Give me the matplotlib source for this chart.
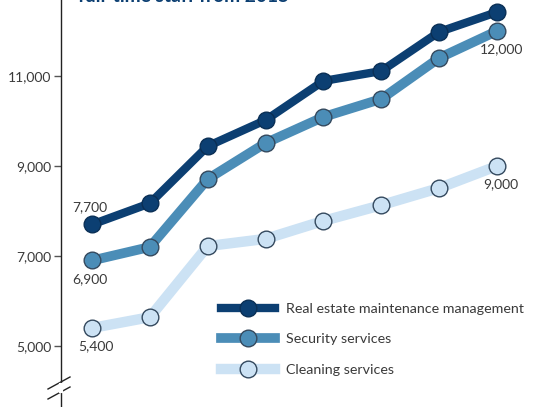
import matplotlib.pyplot as plt
from matplotlib.lines import Line2D

plt.rcParams['font.family'] = ['Lato', 'DejaVu Sans']

years = [2015, 2016, 2017, 2018, 2019, 2020, 2021, 2022]
real_estate = [7700, 8170, 9440, 10020, 10890, 11110, 11980, 12420]
security = [6900, 7200, 8710, 9510, 10090, 10490, 11400, 12000]
cleaning = [5400, 5640, 7220, 7380, 7780, 8130, 8510, 9000]
yticks = [5000, 7000, 9000, 11000]

c_dark = "#0c3f72"
c_mid = "#4b8db7"
c_light = "#cce2f4"
edge = "#34495e"
txt = "#3a3a3a"

fig = plt.figure(figsize=(5.43, 4.07), dpi=100)
ax = fig.add_axes([61 / 543, 0, 1 - 61 / 543, 1])

x = list(range(len(years)))
ax.plot(x, cleaning, color=c_light, lw=7.5, solid_capstyle='butt', zorder=2)
ax.plot(x, cleaning, 'o', ms=12, mfc=c_light, mec=edge, mew=1.0, zorder=3)
ax.plot(x, security, color=c_mid, lw=7, solid_capstyle='butt', zorder=4)
ax.plot(x, security, 'o', ms=12, mfc=c_mid, mec=edge, mew=1.0, zorder=5)
ax.plot(x, real_estate, color=c_dark, lw=6, solid_capstyle='butt', zorder=6)
ax.plot(x, real_estate, 'o', ms=12, mfc=c_dark, mec="#0a2f55", mew=1.0, zorder=7)

ax.set_xlim(-0.536, 7.795)
ax.set_ylim(3644, 12689)
ax.set_xticks([])
ax.set_yticks(yticks)
ax.set_yticklabels([f"{v:,}" for v in yticks], fontsize=10, color=txt)
ax.tick_params(axis='y', length=5, width=1, color="#555555", pad=2)
for s in ['top', 'right', 'bottom']:
    ax.spines[s].set_visible(False)
ax.spines['left'].set_color("#222222")
ax.spines['left'].set_linewidth(1)

# value labels
lab = dict(fontsize=10, color=txt)
ax.text(x[0] - 0.04, real_estate[0] + 260, f"{real_estate[0]:,}", ha='center', va='bottom', **lab)
ax.text(x[0] - 0.04, security[0] - 280, f"{security[0]:,}", ha='center', va='top', **lab)
ax.text(x[0] + 0.07, cleaning[0] - 280, f"{cleaning[0]:,}", ha='center', va='top', **lab)
ax.text(x[-1] + 0.07, security[-1] - 280, f"{security[-1]:,}", ha='center', va='top', **lab)
ax.text(x[-1] + 0.07, cleaning[-1] - 280, f"{cleaning[-1]:,}", ha='center', va='top', **lab)
ax.text(x[-1] + 0.07, real_estate[-1] + 300, f"{real_estate[-1]:,}", ha='center', va='bottom', clip_on=False, **lab)

# title, cut at the top edge as in the source
fig.text(78 / 543, 1.008, "full-time staff from 2015", fontsize=13.8, fontweight='bold',
         color=c_dark, ha='left', va='center')

# legend
handles = [
    Line2D([], [], color=c_dark, lw=6, marker='o', ms=12, mfc=c_dark, mec="#0a2f55"),
    Line2D([], [], color=c_mid, lw=7, marker='o', ms=12, mfc=c_mid, mec=edge),
    Line2D([], [], color=c_light, lw=7.5, marker='o', ms=12, mfc=c_light, mec=edge),
]
labels = ["Real estate maintenance management", "Security services", "Cleaning services"]
leg = ax.legend(handles, labels, loc='upper left', bbox_to_anchor=(154 / 482, 1 - 297 / 407),
                frameon=False, fontsize=10.3, handlelength=3.8, handletextpad=0.75,
                labelspacing=1.3, borderaxespad=0)
for t in leg.get_texts():
    t.set_color(txt)

# axis break marks
for dy in [0, 10]:
    fig.add_artist(Line2D([48 / 543, 70 / 543], [1 - (389 + dy) / 407, 1 - (377 + dy) / 407],
                          color="#222222", lw=1))
fig.add_artist(Line2D([61 / 543, 61 / 543], [1 - 385 / 407, 1 - 391 / 407], color="white", lw=3))

fig.savefig("out.png", dpi=100)
